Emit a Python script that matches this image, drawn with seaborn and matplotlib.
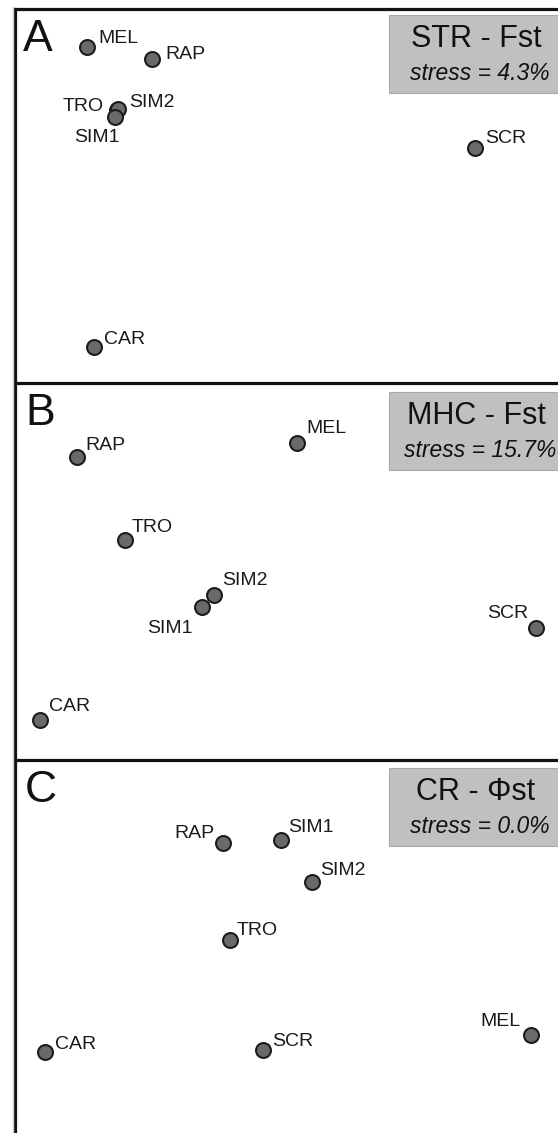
import matplotlib
matplotlib.use("Agg")
import matplotlib.pyplot as plt
from matplotlib.patches import Rectangle
from matplotlib.lines import Line2D
import seaborn as sns
import pandas as pd

sns.set_style("white")
plt.rcParams['font.family'] = ['Liberation Sans', 'DejaVu Sans']

# ---- data (MDS coordinates) ----
pops_A = ["MEL", "RAP", "TRO", "SIM2", "SIM1", "SCR", "CAR"]
dim1_A = [0.72, 1.37, 1.02, 1.03, 1.00, 4.60, 0.79]
dim2_A = [-0.38, -0.50, -1.01, -1.00, -1.08, -1.39, -3.38]

pops_B = ["RAP", "MEL", "TRO", "SIM2", "SIM1", "SCR", "CAR"]
dim1_B = [0.62, 2.82, 1.10, 1.99, 1.87, 5.21, 0.25]
dim2_B = [-0.74, -0.60, -1.57, -2.12, -2.24, -2.45, -3.37]

pops_C = ["RAP", "SIM1", "SIM2", "TRO", "CAR", "SCR", "MEL"]
dim1_C = [2.08, 2.66, 2.97, 2.15, 0.30, 2.48, 5.16]
dim2_C = [-0.83, -0.80, -1.22, -1.80, -2.92, -2.90, -2.75]

panel_letters = ["A", "B", "C"]
titles = ["STR - Fst", "MHC - Fst", "CR - \u03A6st"]
stress = ["stress = 4.3%", "stress = 15.7%", "stress = 0.0%"]

# ---- label placement (pixels: dx, dy above point, alignment) ----
offsets = [
    {"MEL": (11, 4, "left"), "RAP": (13, 0, "left"), "TRO": (-13, -1, "right"),
     "SIM2": (11, 2, "left"), "SIM1": (5, -25, "right"), "SCR": (10, 5, "left"),
     "CAR": (10, 3, "left")},
    {"RAP": (8, 7, "left"), "MEL": (9, 10, "left"), "TRO": (7, 8, "left"),
     "SIM2": (8, 10, "left"), "SIM1": (-9, -26, "right"), "SCR": (-8, 10, "right"),
     "CAR": (9, 9, "left")},
    {"RAP": (-8, 5, "right"), "SIM1": (7, 8, "left"), "SIM2": (8, 7, "left"),
     "TRO": (7, 5, "left"), "CAR": (10, 3, "left"), "SCR": (9, 4, "left"),
     "MEL": (-10, 9, "right")},
]

W, H = 558, 1133
left_px = 15
tops = [9, 383, 760]
bots = [383, 760, 1133]
box_tops = [6, 9, 8]

fig = plt.figure(figsize=(W / 100, H / 100), dpi=100)
fig.patch.set_facecolor("white")
fig.add_artist(Line2D([12.5 / W, 12.5 / W], [0, 1 - 7 / H], color="#cfcfcf", lw=1.0))

datasets = [(pops_A, dim1_A, dim2_A), (pops_B, dim1_B, dim2_B), (pops_C, dim1_C, dim2_C)]

for i, (pops, d1, d2) in enumerate(datasets):
    top, bot = tops[i], bots[i]
    hpx = bot - top
    ax = fig.add_axes([left_px / W, 1 - bot / H, (W - left_px) / W, hpx / H])
    ax.set_xlim(0, (W - left_px) / 100)
    ax.set_ylim(-hpx / 100, 0)
    ax.set_xticks([])
    ax.set_yticks([])
    ax.set_xlabel("")
    ax.set_ylabel("")
    for s in ["right", "bottom"]:
        ax.spines[s].set_visible(False)
    for s in ["left", "top"]:
        ax.spines[s].set_visible(True)
        ax.spines[s].set_color("#111111")
        ax.spines[s].set_linewidth(2.3)

    df = pd.DataFrame({"pop": pops, "Dim1": d1, "Dim2": d2})
    sns.scatterplot(data=df, x="Dim1", y="Dim2", ax=ax, s=115, color="#6a6a6a",
                    edgecolor="#1c1c1c", linewidth=1.5, legend=False, zorder=3,
                    clip_on=False)
    ax.set_xlabel("")
    ax.set_ylabel("")

    for p, x, y in zip(pops, d1, d2):
        dx, dy, ha = offsets[i][p]
        ax.annotate(p, (x, y), xytext=(dx, dy), textcoords="offset pixels",
                    ha=ha, va="baseline", fontsize=14, color="#1a1a1a", zorder=4)

    # panel letter
    ax.text((23 - left_px) / 100 if i == 0 else (25 - left_px) / 100, -0.42,
            panel_letters[i], fontsize=32, ha="left", va="baseline", color="#111111")

    # title box
    bt = box_tops[i]
    ax.add_patch(Rectangle(((389 - left_px) / 100, -(bt + 78) / 100), 3.0, 0.78,
                           facecolor="#c0c0c0", edgecolor="#a9a9a9", lw=0.8, zorder=2))
    ax.text((476 - left_px) / 100, -(bt + 32) / 100, titles[i], fontsize=22,
            ha="center", va="baseline", color="#111111", zorder=3)
    ax.text((480 - left_px) / 100, -(bt + 65) / 100, stress[i], fontsize=16.5,
            style="italic", ha="center", va="baseline", color="#111111", zorder=3)

fig.savefig("out.png", dpi=100, facecolor="white")
